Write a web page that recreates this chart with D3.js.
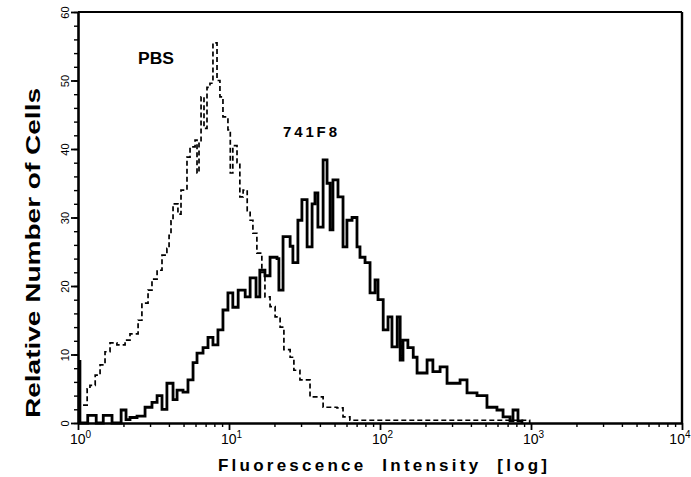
<!DOCTYPE html>
<html>
<head>
<meta charset="utf-8">
<script src="https://cdn.jsdelivr.net/npm/d3@7"></script>
<style>
  body { margin: 0; background: #fff; }
  text { font-family: "Liberation Sans", Arial, sans-serif; fill: #000; }
</style>
</head>
<body>
<div id="chart"></div>
<script>
// PBS control (dashed) - intensity / count pairs
const pbsX = [1.08, 1.15, 1.20, 1.30, 1.40, 1.51, 1.63, 1.81, 2.05, 2.21, 2.50, 2.65, 2.91, 3.09, 3.34,
  3.60, 3.88, 4.01, 4.13, 4.26, 4.59, 4.81, 5.27, 5.52, 5.96, 6.14, 6.33, 6.53, 6.83, 7.15, 7.48, 7.83,
  8.33, 8.71, 9.12, 9.84, 10.2, 10.6, 11.3, 11.8, 12.4, 13.2, 13.8, 14.4, 15.3, 16.5, 17.3, 18.7, 20.2,
  21.8, 23.1, 25.4, 26.9, 29.5, 34.4, 42.0, 51.9, 56.9, 63.2, 135, 290, 980];
const pbsY = [2.6, 5, 5.5, 7, 8.5, 10.4, 11.7, 11.4, 12.1, 13, 15, 17.5, 19.4, 21, 22.3,
  24.5, 25.5, 27.4, 29.5, 32, 30.5, 34, 38.8, 40.3, 41.3, 36.5, 41, 47.6, 43, 49, 49.6, 55.5,
  50, 47.6, 44.7, 42.8, 36.5, 40.5, 38, 33, 34, 31, 29.6, 27.7, 24.8, 22, 18.4, 17, 15.5,
  14, 10.7, 9.6, 7.7, 6.3, 3.8, 2.3, 2.2, 0.9, 0.4, 0.4, 0.4, 0];

// 741F8 antibody (solid)
const cellX = [1.00, 1.03, 1.16, 1.32, 1.47, 1.68, 1.93, 2.08, 2.21, 2.46, 2.78, 3.09, 3.34, 3.60, 3.88,
  4.26, 4.53, 4.96, 5.35, 5.78, 6.14, 6.73, 7.26, 7.83, 8.45, 9.12, 9.84, 10.6, 11.5, 12.8, 13.8, 15.1,
  16.0, 17.3, 18.7, 20.8, 21.4, 22.8, 25.4, 26.5, 28.6, 30.4, 32.9, 35.5, 37.1, 38.8, 42.0, 44.6, 46.7,
  48.8, 52.7, 56.9, 60.4, 65.3, 70.4, 73.7, 79.6, 85.9, 92.7, 97.0, 105, 113, 120, 130, 136, 142, 153,
  166, 176, 205, 224, 250, 278, 339, 377, 439, 511, 595, 653, 726, 760, 820, 871];
const cellY = [9, 0, 1.1, 0, 1.1, 0, 1.9, 0.5, 0.8, 1.0, 2.3, 3, 4, 2, 5.8,
  3.4, 4.8, 4.5, 6.3, 8.8, 10.2, 11, 12.5, 11.4, 13.6, 16.5, 19, 16.9, 19.4, 18.4, 21.2, 18.4,
  22.3, 21.5, 24.2, 24, 19.4, 27.2, 25.8, 23.4, 29.6, 32.6, 25.7, 32, 33.6, 28.6, 38.4, 35, 28.2,
  35.5, 33, 25.7, 29.6, 30, 25.7, 24.2, 23.4, 19, 20.9, 18, 13.6, 15.5, 11.1, 15.5, 9.2, 12.1, 11,
  9.6, 7.3, 9.2, 7.5, 8.2, 5.8, 6.3, 4.4, 4, 2.3, 1.9, 0.9, 0.3, 1.9, 0.3, 0];

const xTicks = [1, 10, 100, 1000, 10000];
const xTickExp = ["0", "1", "2", "3", "4"];
const yTicks = [0, 10, 20, 30, 40, 50, 60];

const width = 691, height = 477;
const margin = { top: 12, right: 9, bottom: 54, left: 78 };

const svg = d3.select("#chart").append("svg")
  .attr("width", width)
  .attr("height", height);

const x = d3.scaleLog().domain([1, 10000]).range([margin.left, width - margin.right]);
const y = d3.scaleLinear().domain([0, 60]).range([height - margin.bottom, margin.top]);

// minor ticks
const xMinor = [];
for (let d = 1; d < 10000; d *= 10) {
  for (let k = 2; k <= 9; k++) xMinor.push(d * k);
}
svg.append("g")
  .attr("transform", `translate(0,${y(0)})`)
  .call(d3.axisBottom(x).tickValues(xMinor).tickSize(4).tickFormat(""))
  .call(g => g.select(".domain").remove())
  .call(g => g.selectAll("line").attr("stroke-width", 1.4));

svg.append("g")
  .attr("transform", `translate(${x(1)},0)`)
  .call(d3.axisLeft(y).tickValues(d3.range(0, 61, 2)).tickSize(4).tickFormat(""))
  .call(g => g.select(".domain").remove())
  .call(g => g.selectAll("line").attr("stroke-width", 1.4));

// major axes
const xAxis = svg.append("g")
  .attr("transform", `translate(0,${y(0)})`)
  .call(d3.axisBottom(x).tickValues(xTicks).tickSize(7).tickSizeOuter(0).tickFormat(""));
xAxis.select(".domain").attr("stroke-width", 2.4);
xAxis.selectAll("line").attr("stroke-width", 1.8);
xAxis.selectAll(".tick").each(function (d, i) {
  const last = i === xTicks.length - 1;
  const t = d3.select(this).append("text")
    .attr("x", last ? 8 : 2)
    .attr("y", 21)
    .attr("text-anchor", last ? "end" : "middle")
    .style("font-size", "14px");
  t.append("tspan").text("10");
  t.append("tspan").attr("dy", -6).style("font-size", "10px").text(xTickExp[i]);
});

const yAxis = svg.append("g")
  .attr("transform", `translate(${x(1)},0)`)
  .call(d3.axisLeft(y).tickValues(yTicks).tickSize(7).tickSizeOuter(0));
yAxis.select(".domain").attr("stroke-width", 2.6);
yAxis.selectAll("line").attr("stroke-width", 1.8);
yAxis.selectAll("text")
  .attr("transform", "rotate(-90)")
  .attr("x", 0)
  .attr("y", -9)
  .attr("dy", 0)
  .attr("text-anchor", "middle")
  .style("font-size", "11px")
  .style("font-family", "'Liberation Sans', Arial, sans-serif");

// frame top/right
svg.append("line")
  .attr("x1", x(1)).attr("x2", x(10000))
  .attr("y1", y(60)).attr("y2", y(60))
  .attr("stroke", "#000").attr("stroke-width", 2.2);
svg.append("line")
  .attr("x1", x(10000)).attr("x2", x(10000))
  .attr("y1", y(60)).attr("y2", y(0))
  .attr("stroke", "#000").attr("stroke-width", 2.4);

// histograms
const line = d3.line()
  .x(d => x(d[0]))
  .y(d => y(d[1]))
  .curve(d3.curveStepAfter);

svg.append("path")
  .datum(pbsX.map((v, i) => [v, pbsY[i]]))
  .attr("fill", "none")
  .attr("stroke", "#000")
  .attr("stroke-width", 1.7)
  .attr("stroke-dasharray", "5,3")
  .attr("d", line);

svg.append("path")
  .datum(cellX.map((v, i) => [v, cellY[i]]))
  .attr("fill", "none")
  .attr("stroke", "#000")
  .attr("stroke-width", 2.8)
  .attr("stroke-linejoin", "miter")
  .attr("d", line);

// labels
svg.append("text")
  .attr("x", 138).attr("y", 64)
  .attr("textLength", 36).attr("lengthAdjust", "spacingAndGlyphs")
  .style("font-size", "16px").style("font-weight", "bold")
  .text("PBS");

svg.append("text")
  .attr("x", 283).attr("y", 137)
  .attr("textLength", 54).attr("lengthAdjust", "spacing")
  .style("font-size", "15px").style("font-weight", "bold")
  .text("741F8");

svg.append("text")
  .attr("x", 218).attr("y", 471)
  .attr("textLength", 329).attr("lengthAdjust", "spacing")
  .style("font-size", "17px").style("font-weight", "bold")
  .style("white-space", "pre")
  .text("Fluorescence  Intensity  [log]");

svg.append("text")
  .attr("transform", "translate(40,418) rotate(-90)")
  .attr("textLength", 330).attr("lengthAdjust", "spacingAndGlyphs")
  .style("font-size", "20px").style("font-weight", "bold")
  .text("Relative Number of Cells");
</script>
</body>
</html>
